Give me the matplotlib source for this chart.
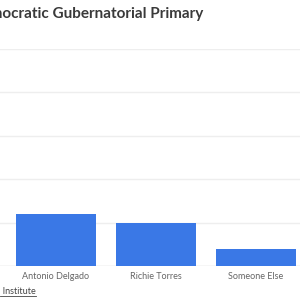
import matplotlib.pyplot as plt

candidates = ["Antonio Delgado", "Richie Torres", "Someone Else"]
support = [12, 10, 3.9]
y_ticks = [0, 10, 20, 30, 40, 50]

W, H = 300, 302
fig = plt.figure(figsize=(W / 100, H / 100), dpi=100)
plt.rcParams['font.family'] = ['Lato', 'DejaVu Sans']

# axes run off the left edge, like the cropped original
ax = fig.add_axes([0, (H - 266) / H, 1.0, (266 - 49) / H])
x = range(len(candidates))
ax.bar(x, support, width=0.8, color='#3a78e6', zorder=3)
ax.set_xlim(-0.56, 2.44)
ax.set_ylim(0, 50)
ax.set_yticks(y_ticks)
ax.yaxis.grid(True, color='#eeeeee', linewidth=1)
ax.tick_params(axis='y', length=0, labelleft=False)
ax.set_xticks(list(x))
ax.set_xticklabels(candidates, fontsize=6.5, color='#666666')
ax.tick_params(axis='x', length=0, pad=4)
for s in ax.spines.values():
    s.set_visible(False)
ax.axhline(0, color='#e6e6e6', linewidth=1, zorder=2)

fig.text(203 / W, 1 - 14 / H, "Democratic Gubernatorial Primary", ha='right', va='center',
         fontsize=11, fontweight='bold', color='#3a3a3a')
fig.text(36 / W, 1 - 291 / H, "Siena College Research Institute", ha='right', va='center',
         fontsize=6.5, color='#444444')
fig.add_artist(plt.Line2D([0, 36 / W], [1 - 295.5 / H] * 2, color='#444444', linewidth=0.6,
                          transform=fig.transFigure))

fig.savefig("out.png", dpi=100)
